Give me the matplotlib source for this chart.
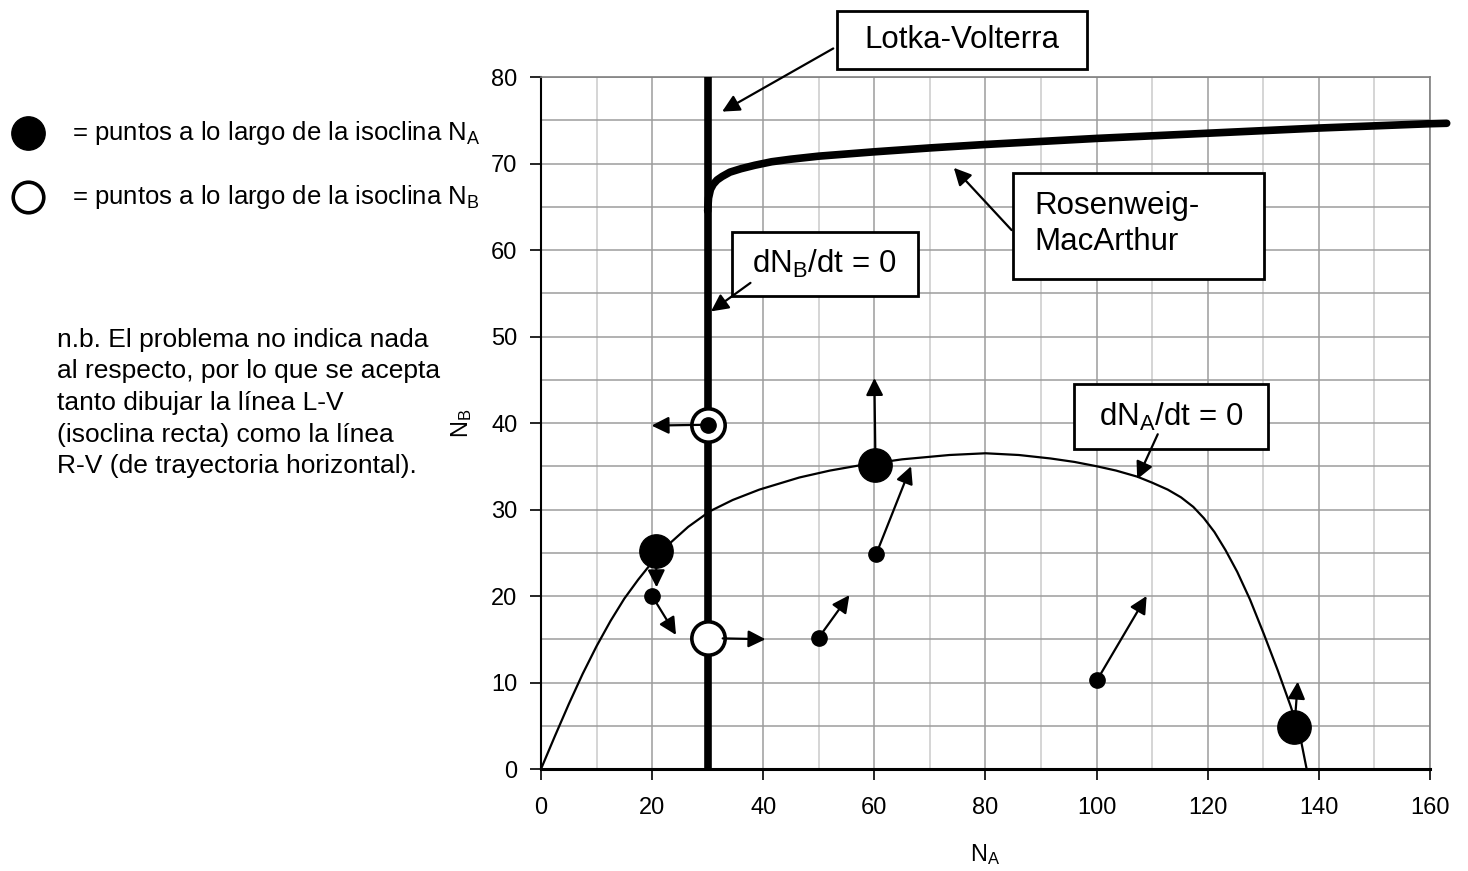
import matplotlib.pyplot as plt
from matplotlib.patches import Rectangle
from matplotlib.lines import Line2D

plt.rcParams['font.family'] = ['Liberation Sans', 'DejaVu Sans']
plt.rcParams['mathtext.fontset'] = 'custom'
plt.rcParams['mathtext.rm'] = 'Liberation Sans'
plt.rcParams['mathtext.it'] = 'Liberation Sans:italic'
plt.rcParams['mathtext.bf'] = 'Liberation Sans:bold'
plt.rcParams['mathtext.default'] = 'regular'

# dN_A/dt = 0 isocline (thin curve)
na_iso_x = [0, 2.5, 5, 7.5, 10, 12.5, 15, 17.5, 20, 23.2, 26.5, 30.4, 34.5, 39.3, 46.5,
            52, 57.3, 65, 73.5, 80, 86, 91.7, 96, 100, 103.5, 107.3, 110, 112.8,
            115.2, 117.4, 119.3, 121.2, 123.2, 125.3, 127.6, 130.1, 132.6, 134.9, 136.5, 137.8]
na_iso_y = [0, 3.8, 7.5, 11.0, 14.2, 17.1, 19.7, 21.9, 23.9, 26.1, 28.0, 29.8, 31.1, 32.3,
            33.7, 34.5, 35.1, 35.8, 36.3, 36.5, 36.3, 35.9, 35.5, 35.0, 34.5, 33.8, 33.1,
            32.3, 31.4, 30.3, 29.0, 27.4, 25.3, 22.8, 19.6, 15.6, 11.4, 7.3, 4.2, 0]

# Lotka-Volterra (vertical) and Rosenweig-MacArthur isoclines
lv_x = [30, 30]
lv_y = [0, 80]
rm_x = [30, 30.15, 30.5, 31.0, 31.7, 32.6, 34.0, 36.0, 38.5, 41.5, 45, 50, 60, 70, 80,
        100, 120, 140, 160, 163]
rm_y = [64.5, 66.0, 67.0, 67.6, 68.1, 68.5, 69.0, 69.4, 69.8, 70.2, 70.5, 70.85, 71.35,
        71.8, 72.2, 72.9, 73.5, 74.1, 74.6, 74.65]

# points
big_x = [20.7, 60.2, 135.6]
big_y = [25.2, 35.1, 4.8]
small_x = [20, 60.3, 50, 100, 30]
small_y = [20, 24.8, 15.2, 10.3, 39.8]
open_x = [30, 30]
open_y = [15.1, 39.8]

# trajectory arrows (start -> end)
arr_x0 = [20.7, 20.0, 32.7, 30.0, 60.2, 60.3, 50.0, 100.1, 135.6]
arr_y0 = [25.2, 20.0, 15.1, 39.8, 35.1, 24.8, 15.2, 10.3, 4.8]
arr_x1 = [20.8, 24.3, 40.4, 19.9, 60.0, 66.6, 55.5, 109.0, 136.2]
arr_y1 = [21.0, 15.5, 15.0, 39.7, 45.2, 35.0, 20.1, 20.0, 10.1]

W, H = 1468, 871
fig = plt.figure(figsize=(W / 100, H / 100), dpi=100)
ax = fig.add_axes([541 / W, 1 - 769 / H, 889 / W, 692 / H])
ax.set_xlim(0, 160)
ax.set_ylim(0, 80)
ax.set_xticks(range(0, 161, 20))
ax.set_xticks(range(10, 161, 20), minor=True)
ax.set_yticks(range(0, 81, 10))
ax.set_yticks(range(5, 80, 10), minor=True)
ax.set_axisbelow(True)
ax.grid(which='major', color='#9c9c9c', lw=1.1)
ax.grid(which='minor', axis='y', color='#9c9c9c', lw=1.1)
ax.grid(which='minor', axis='x', color='#cacaca', lw=1.1)
ax.tick_params(which='minor', length=0)
ax.tick_params(which='major', direction='out', length=8, width=1.2, labelsize=17)
ax.tick_params(axis='y', pad=9)
ax.tick_params(axis='x', pad=12)
for s in ['left', 'bottom']:
    ax.spines[s].set_color('black')
ax.spines['left'].set_linewidth(1.5)
ax.spines['bottom'].set_linewidth(2.2)
for s in ['top', 'right']:
    ax.spines[s].set_color('#808080')
    ax.spines[s].set_linewidth(1.2)

ax.set_xlabel('N$_A$', fontsize=17, va='center')
ax.set_ylabel('N$_B$', fontsize=17, va='center')
ax.xaxis.set_label_coords(0.5, (769 - 855) / 692)
ax.yaxis.set_label_coords((462 - 541) / 889, 0.5)

ax.plot(lv_x, lv_y, color='black', lw=5.5, solid_capstyle='butt', zorder=3)
ax.plot(rm_x, rm_y, color='black', lw=5.5, solid_capstyle='round',
        solid_joinstyle='round', clip_on=False, zorder=3)
ax.plot(na_iso_x, na_iso_y, color='black', lw=1.6, solid_joinstyle='round', zorder=3)

ax.plot(open_x, open_y, 'o', ms=24, mfc='white', mec='black', mew=2.6, zorder=5)
for x0, y0, x1, y1 in zip(arr_x0, arr_y0, arr_x1, arr_y1):
    ax.annotate('', xy=(x1, y1), xytext=(x0, y0),
                arrowprops=dict(arrowstyle='-|>', color='black', lw=1.6,
                                mutation_scale=26, shrinkA=0, shrinkB=0), zorder=6)
ax.plot(big_x, big_y, 'o', ms=24, color='black', zorder=7)
ax.plot(small_x, small_y, 'o', ms=11, color='black', zorder=7)

# label boxes
boxes = [
    ((53.2, 80.9), 45.1, 6.7, 'Lotka-Volterra', (75.7, 84.3), 'center'),
    ((85.0, 56.7), 45.2, 12.15, 'Rosenweig-\nMacArthur', (88.8, 63.0), 'left'),
    ((34.3, 54.7), 33.5, 7.4, 'dN$_B$/dt = 0', (51.0, 58.4), 'center'),
    ((96.0, 37.0), 34.8, 7.5, 'dN$_A$/dt = 0', (113.4, 40.7), 'center'),
]
for (bx, by), bw, bh, txt, (tx, ty), ha in boxes:
    ax.add_patch(Rectangle((bx, by), bw, bh, fc='white', ec='black', lw=2,
                           zorder=8, clip_on=False))
    ax.text(tx, ty, txt, fontsize=22.5, ha=ha, va='center', linespacing=1.25,
            zorder=10, clip_on=False)

label_arrows = [((52.6, 83.3), (32.6, 76.0)),
                ((84.7, 62.3), (74.3, 69.5)),
                ((37.7, 56.2), (30.6, 52.9)),
                ((111.0, 38.7), (107.3, 33.5))]
for (x0, y0), (x1, y1) in label_arrows:
    ax.annotate('', xy=(x1, y1), xytext=(x0, y0), annotation_clip=False,
                arrowprops=dict(arrowstyle='-|>', color='black', lw=1.6,
                                mutation_scale=26, shrinkA=0, shrinkB=0), zorder=9)

# legend at the left
fig.add_artist(Line2D([28 / W], [1 - 133 / H], marker='o', ms=24, color='black',
                      transform=fig.transFigure))
fig.add_artist(Line2D([27.5 / W], [1 - 197 / H], marker='o', ms=22, mfc='white',
                      mec='black', mew=2.6, transform=fig.transFigure))
fig.text(72 / W, 1 - 133 / H, '= puntos a lo largo de la isoclina N$_A$',
         fontsize=18.5, va='center')
fig.text(72 / W, 1 - 197 / H, '= puntos a lo largo de la isoclina N$_B$',
         fontsize=18.5, va='center')

note = ('n.b. El problema no indica nada\n'
        'al respecto, por lo que se acepta\n'
        'tanto dibujar la línea L-V\n'
        '(isoclina recta) como la línea\n'
        'R-V (de trayectoria horizontal).')
fig.text(57 / W, 1 - 403 / H, note, fontsize=19, va='center', ha='left',
         linespacing=1.4)

fig.savefig('out.png', dpi=100)
